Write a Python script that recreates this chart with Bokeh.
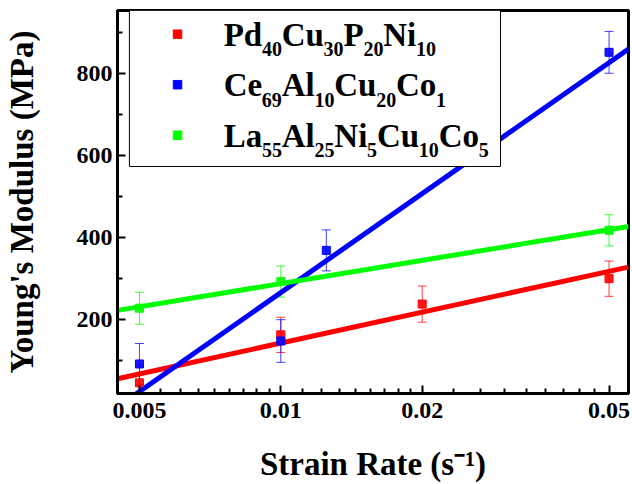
import numpy as np
from bokeh.plotting import figure
from bokeh.models import FixedTicker, Whisker, ColumnDataSource, TeeHead
from bokeh.core.properties import value
from bokeh.embed import file_html
from bokeh.resources import INLINE

# ---------------- data ----------------
pd_rate = [0.005, 0.01, 0.02, 0.05]
pd_modulus = [46, 163, 238, 300]
pd_err = [43, 43, 44, 43]

ce_rate = [0.005, 0.01, 0.0125, 0.05]
ce_modulus = [92, 148, 369, 852]
ce_err = [50, 52, 50, 51]

la_rate = [0.005, 0.01, 0.05]
la_modulus = [228, 293, 418]
la_err = [39, 38, 38]

x_ticks = [0.005, 0.01, 0.02, 0.05]
x_tick_labels = ["0.005", "0.01", "0.02", "0.05"]
y_ticks = [200, 400, 600, 800]
y_minor_ticks = [100, 300, 500, 700, 900]

x_title = "Strain Rate (s\u207b\u00b9)"
y_title = "Young's Modulus (MPa)"

legend_pd = [("Pd", 0), ("40", 1), ("Cu", 0), ("30", 1), ("P", 0), ("20", 1), ("Ni", 0), ("10", 1)]
legend_ce = [("Ce", 0), ("69", 1), ("Al", 0), ("10", 1), ("Cu", 0), ("20", 1), ("Co", 0), ("1", 1)]
legend_la = [("La", 0), ("55", 1), ("Al", 0), ("25", 1), ("Ni", 0), ("5", 1), ("Cu", 0), ("10", 1), ("Co", 0), ("5", 1)]

RED, BLUE, GREEN = "#ff0000", "#0000ff", "#00ff00"
series = [
    (pd_rate, pd_modulus, pd_err, RED, legend_pd),
    (ce_rate, ce_modulus, ce_err, BLUE, legend_ce),
    (la_rate, la_modulus, la_err, GREEN, legend_la),
]

X_RANGE = (0.00449, 0.0550)
Y_RANGE = (20, 954)
FONT = "Liberation Serif"

# ---------------- layout ----------------
W, H = 632, 484
ML, MT, MR, MB = 113, 10, 4, 91
FW, FH = W - ML - MR, H - MT - MB

p = figure(width=W, height=H, x_axis_type="log", x_range=X_RANGE, y_range=Y_RANGE,
           output_backend="svg", toolbar_location=None,
           min_border_left=ML, min_border_top=MT, min_border_right=MR, min_border_bottom=MB)
p.xgrid.visible = False
p.ygrid.visible = False
p.outline_line_color = "black"
p.outline_line_width = 3
p.background_fill_color = "white"
p.border_fill_color = "white"

# x ticks: majors + 8 linear minor ticks in between
x_minor = []
for a, b in zip(x_ticks[:-1], x_ticks[1:]):
    for k in range(1, 9):
        x_minor.append(a + (b - a) * k / 9.0)
p.xaxis.ticker = FixedTicker(ticks=x_ticks, minor_ticks=x_minor)
p.xaxis.major_label_overrides = {t: l for t, l in zip(x_ticks, x_tick_labels)}
p.yaxis.ticker = FixedTicker(ticks=y_ticks, minor_ticks=y_minor_ticks)

p.xaxis.axis_label = x_title
p.yaxis.axis_label = y_title

for ax in (p.xaxis[0], p.yaxis[0]):
    ax.axis_line_width = 3
    ax.axis_line_color = "black"
    ax.major_tick_line_width = 2
    ax.minor_tick_line_width = 2
    ax.major_tick_in = 8
    ax.major_tick_out = 0
    ax.minor_tick_in = 5
    ax.minor_tick_out = 0
    ax.major_label_text_font = FONT
    ax.major_label_text_font_style = "bold"
    ax.major_label_text_font_size = "24px"
    ax.major_label_text_color = "black"
    ax.axis_label_text_font = FONT
    ax.axis_label_text_font_style = "bold"
    ax.axis_label_text_font_size = "33px"
    ax.axis_label_text_color = "black"

p.xaxis.major_label_standoff = 9
p.xaxis.axis_label_standoff = 25
p.yaxis.major_label_standoff = 5
p.yaxis.axis_label_standoff = 34

# ---------------- data marks ----------------
for rate, mod, err, color, _ in series:
    lx = np.log10(np.array(rate, dtype=float))
    coef = np.polyfit(lx, np.array(mod, dtype=float), 1)
    xs = np.array(X_RANGE, dtype=float)
    p.line(xs, np.polyval(coef, np.log10(xs)), line_width=5, line_color=color)

for rate, mod, err, color, _ in series:
    src = ColumnDataSource(dict(x=rate, y=mod,
                                upper=[m + e for m, e in zip(mod, err)],
                                lower=[m - e for m, e in zip(mod, err)]))
    wk = Whisker(base="x", upper="upper", lower="lower", source=src,
                 line_color=color, line_width=1, line_alpha=0.75,
                 upper_head=TeeHead(size=9, line_color=color, line_width=1, line_alpha=0.75),
                 lower_head=TeeHead(size=9, line_color=color, line_width=1, line_alpha=0.75))
    p.add_layout(wk)
    p.scatter("x", "y", source=src, marker="square", size=8, fill_color=color,
              line_color=color, fill_alpha=0.9)

# ---------------- pixel helpers (relative to the frame's top-left corner) ----------------
def px_x(dx):
    l0, l1 = np.log10(X_RANGE[0]), np.log10(X_RANGE[1])
    return 10 ** (l0 + dx / FW * (l1 - l0))

def px_y(dy):
    return Y_RANGE[1] - dy / FH * (Y_RANGE[1] - Y_RANGE[0])

ADV = {"P": 611, "d": 556, "C": 722, "u": 556, "N": 722, "i": 278, "e": 444,
       "A": 722, "l": 278, "o": 500, "L": 667, "a": 500}

def adv(txt, size):
    return sum(ADV.get(c, 500) for c in txt) / 1000.0 * size

# ---------------- legend (manual, for subscripts) ----------------
MAIN, SUB, SUB_DROP = 33, 20, 10
BASE_FIX = 0.345  # renderer places the "alphabetic" anchor ~0.345 em above the drawn baseline

p.quad(left=[px_x(12)], right=[px_x(386)], top=[px_y(0)], bottom=[px_y(156)],
       fill_color="white", line_color="black", line_width=1)

mx, my, mt, sx, sy, st = [], [], [], [], [], []
for k, (_, _, _, color, chunks) in enumerate(series):
    row = k * 50.5
    p.scatter([px_x(60.5)], [px_y(23.7 + row)], marker="square", size=8.5,
              fill_color=color, line_color=color)
    cur = 107.0
    base = 35.5 + row
    for txt, is_sub in chunks:
        if is_sub:
            sx.append(px_x(cur)); sy.append(px_y(base + SUB_DROP - BASE_FIX * SUB)); st.append(txt)
            cur += adv(txt, SUB)
        else:
            mx.append(px_x(cur)); my.append(px_y(base - BASE_FIX * MAIN)); mt.append(txt)
            cur += adv(txt, MAIN)

p.text(x=mx, y=my, text=mt, text_font=value(FONT), text_font_style="bold",
       text_font_size="33px", text_baseline="alphabetic", text_align="left", text_color="black")
p.text(x=sx, y=sy, text=st, text_font=value(FONT), text_font_style="bold",
       text_font_size="20px", text_baseline="alphabetic", text_align="left", text_color="black")

open("out.html", "w").write(file_html(p, INLINE))
